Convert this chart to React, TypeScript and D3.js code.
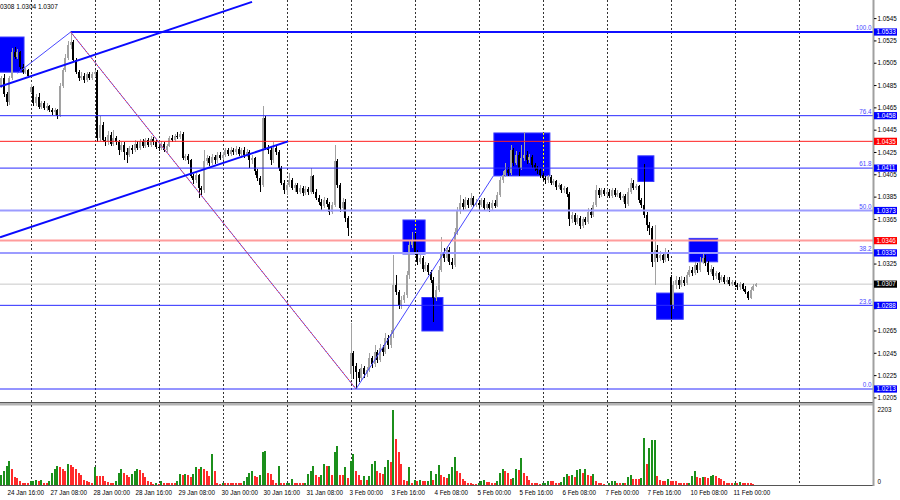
import * as d3 from "d3";

type Bar = [number, number, number]; // close, high, low

// ── sessions (H1 bars) ─────────────────────────────────────
const sessionNames = ["24 Jan", "27 Jan", "28 Jan", "29 Jan", "30 Jan", "31 Jan", "3 Feb", "4 Feb", "5 Feb", "6 Feb", "7 Feb", "10 Feb", "11 Feb"];
// opening quote of a session when it gaps, otherwise null (open = previous close)
const sessionOpens: (number | null)[] = [1.0488, 1.0479, null, null, null, null, 1.0226, null, null, null, null, 1.0313, null];

const jan24: Bar[] = [
  [1.0484, 1.0490, 1.0482], [1.0492, 1.0494, 1.0483], [1.0477, 1.0495, 1.0475], [1.0470, 1.0479, 1.0467],
  [1.0492, 1.0494, 1.0468], [1.0515, 1.0519, 1.0490], [1.0511, 1.0520, 1.0509], [1.0515, 1.0518, 1.0509],
  [1.0502, 1.0516, 1.0500], [1.0497, 1.0504, 1.0495], [1.0499, 1.0501, 1.0495], [1.0494, 1.0500, 1.0492],
];
const jan27: Bar[] = [
  [1.0484, 1.0486, 1.0478], [1.0469, 1.0485, 1.0467], [1.0475, 1.0477, 1.0467], [1.0466, 1.0478, 1.0464],
  [1.0469, 1.0471, 1.0464], [1.0465, 1.0471, 1.0463], [1.0467, 1.0469, 1.0462], [1.0463, 1.0468, 1.0461],
  [1.0461, 1.0465, 1.0459], [1.0463, 1.0465, 1.0459], [1.0458, 1.0464, 1.0455], [1.0485, 1.0487, 1.0457],
  [1.0499, 1.0501, 1.0483], [1.0510, 1.0513, 1.0497], [1.0521, 1.0525, 1.0508], [1.0524, 1.0533, 1.0518],
  [1.0508, 1.0526, 1.0506], [1.0497, 1.0510, 1.0495], [1.0492, 1.0499, 1.0489], [1.0494, 1.0497, 1.0490],
  [1.0490, 1.0496, 1.0487], [1.0495, 1.0497, 1.0488], [1.0492, 1.0497, 1.0490], [1.0495, 1.0497, 1.0490],
];
const jan28: Bar[] = [
  [1.0497, 1.0499, 1.0493], [1.0438, 1.0499, 1.0434], [1.0450, 1.0458, 1.0435], [1.0436, 1.0452, 1.0434],
  [1.0434, 1.0439, 1.0431], [1.0441, 1.0444, 1.0432], [1.0433, 1.0443, 1.0431], [1.0438, 1.0445, 1.0431],
  [1.0434, 1.0440, 1.0432], [1.0427, 1.0436, 1.0423], [1.0432, 1.0434, 1.0425], [1.0425, 1.0434, 1.0418],
  [1.0423, 1.0429, 1.0416], [1.0429, 1.0431, 1.0421], [1.0427, 1.0432, 1.0424], [1.0433, 1.0436, 1.0425],
  [1.0429, 1.0435, 1.0427], [1.0435, 1.0437, 1.0427], [1.0431, 1.0437, 1.0429], [1.0436, 1.0438, 1.0429],
  [1.0432, 1.0438, 1.0430], [1.0437, 1.0440, 1.0430], [1.0434, 1.0439, 1.0432], [1.0430, 1.0436, 1.0428],
];
const jan29: Bar[] = [
  [1.0429, 1.0432, 1.0426], [1.0433, 1.0435, 1.0427], [1.0427, 1.0434, 1.0425], [1.0431, 1.0433, 1.0425],
  [1.0438, 1.0440, 1.0430], [1.0436, 1.0441, 1.0434], [1.0440, 1.0442, 1.0434], [1.0439, 1.0443, 1.0437],
  [1.0442, 1.0444, 1.0437], [1.0420, 1.0443, 1.0418], [1.0422, 1.0424, 1.0417], [1.0418, 1.0424, 1.0415],
  [1.0404, 1.0419, 1.0402], [1.0400, 1.0406, 1.0397], [1.0405, 1.0407, 1.0398], [1.0393, 1.0406, 1.0384],
  [1.0391, 1.0395, 1.0387], [1.0417, 1.0427, 1.0389], [1.0420, 1.0423, 1.0414], [1.0416, 1.0422, 1.0413],
  [1.0421, 1.0424, 1.0414], [1.0418, 1.0423, 1.0415], [1.0423, 1.0425, 1.0416], [1.0420, 1.0425, 1.0418],
];
const jan30: Bar[] = [
  [1.0423, 1.0425, 1.0418], [1.0427, 1.0429, 1.0421], [1.0424, 1.0429, 1.0422], [1.0427, 1.0430, 1.0422],
  [1.0425, 1.0429, 1.0423], [1.0428, 1.0431, 1.0423], [1.0424, 1.0430, 1.0422], [1.0427, 1.0429, 1.0420],
  [1.0423, 1.0430, 1.0420], [1.0425, 1.0428, 1.0421], [1.0418, 1.0427, 1.0411], [1.0420, 1.0423, 1.0415],
  [1.0408, 1.0421, 1.0405], [1.0402, 1.0410, 1.0399], [1.0396, 1.0404, 1.0390], [1.0456, 1.0467, 1.0394],
  [1.0429, 1.0458, 1.0427], [1.0427, 1.0432, 1.0424], [1.0418, 1.0430, 1.0414], [1.0429, 1.0434, 1.0416],
  [1.0425, 1.0431, 1.0423], [1.0411, 1.0427, 1.0408], [1.0398, 1.0413, 1.0396], [1.0391, 1.0400, 1.0388],
];
const jan31: Bar[] = [
  [1.0396, 1.0398, 1.0387], [1.0400, 1.0407, 1.0394], [1.0393, 1.0402, 1.0391], [1.0396, 1.0398, 1.0390],
  [1.0390, 1.0398, 1.0388], [1.0393, 1.0396, 1.0388], [1.0389, 1.0395, 1.0386], [1.0392, 1.0395, 1.0387],
  [1.0390, 1.0394, 1.0387], [1.0404, 1.0411, 1.0388], [1.0390, 1.0405, 1.0388], [1.0384, 1.0392, 1.0382],
  [1.0381, 1.0387, 1.0378], [1.0377, 1.0383, 1.0373], [1.0382, 1.0385, 1.0375], [1.0379, 1.0384, 1.0376],
  [1.0372, 1.0381, 1.0369], [1.0378, 1.0381, 1.0370], [1.0417, 1.0432, 1.0376], [1.0396, 1.0419, 1.0393],
  [1.0375, 1.0398, 1.0372], [1.0381, 1.0384, 1.0372], [1.0366, 1.0383, 1.0363], [1.0357, 1.0368, 1.0350],
];
const feb03: Bar[] = [
  [1.0245, 1.0272, 1.0222], [1.0234, 1.0247, 1.0222], [1.0228, 1.0236, 1.0213], [1.0223, 1.0231, 1.0219],
  [1.0232, 1.0235, 1.0221], [1.0226, 1.0234, 1.0223], [1.0230, 1.0233, 1.0224], [1.0241, 1.0245, 1.0228],
  [1.0235, 1.0243, 1.0232], [1.0246, 1.0252, 1.0233], [1.0239, 1.0248, 1.0236], [1.0250, 1.0253, 1.0237],
  [1.0246, 1.0252, 1.0243], [1.0259, 1.0263, 1.0244], [1.0252, 1.0261, 1.0249], [1.0262, 1.0266, 1.0250],
  [1.0306, 1.0333, 1.0259], [1.0300, 1.0315, 1.0297], [1.0288, 1.0302, 1.0285], [1.0293, 1.0296, 1.0285],
  [1.0297, 1.0300, 1.0290], [1.0315, 1.0319, 1.0295], [1.0342, 1.0346, 1.0312], [1.0347, 1.0354, 1.0339],
];
const feb04: Bar[] = [
  [1.0336, 1.0353, 1.0333], [1.0327, 1.0338, 1.0324], [1.0330, 1.0333, 1.0325], [1.0321, 1.0332, 1.0318],
  [1.0324, 1.0327, 1.0319], [1.0318, 1.0326, 1.0315], [1.0311, 1.0320, 1.0308], [1.0295, 1.0313, 1.0273],
  [1.0302, 1.0305, 1.0292], [1.0320, 1.0323, 1.0300], [1.0336, 1.0349, 1.0318], [1.0330, 1.0339, 1.0327],
  [1.0338, 1.0341, 1.0328], [1.0327, 1.0340, 1.0324], [1.0324, 1.0330, 1.0321], [1.0354, 1.0357, 1.0322],
  [1.0373, 1.0376, 1.0351], [1.0380, 1.0387, 1.0370], [1.0376, 1.0383, 1.0373], [1.0382, 1.0385, 1.0374],
  [1.0378, 1.0384, 1.0375], [1.0384, 1.0389, 1.0376], [1.0378, 1.0386, 1.0376], [1.0380, 1.0383, 1.0376],
];
const feb05: Bar[] = [
  [1.0378, 1.0382, 1.0375], [1.0382, 1.0384, 1.0376], [1.0375, 1.0384, 1.0373], [1.0379, 1.0381, 1.0373],
  [1.0375, 1.0381, 1.0372], [1.0380, 1.0382, 1.0373], [1.0377, 1.0382, 1.0375], [1.0387, 1.0390, 1.0376],
  [1.0400, 1.0403, 1.0385], [1.0405, 1.0408, 1.0398], [1.0409, 1.0416, 1.0403], [1.0407, 1.0412, 1.0404],
  [1.0427, 1.0432, 1.0405], [1.0416, 1.0429, 1.0413], [1.0423, 1.0426, 1.0414], [1.0411, 1.0425, 1.0404],
  [1.0420, 1.0432, 1.0409], [1.0423, 1.0443, 1.0417], [1.0418, 1.0426, 1.0415], [1.0421, 1.0424, 1.0416],
  [1.0414, 1.0423, 1.0411], [1.0411, 1.0416, 1.0408], [1.0409, 1.0413, 1.0406], [1.0405, 1.0411, 1.0402],
];
const feb06: Bar[] = [
  [1.0402, 1.0407, 1.0399], [1.0400, 1.0404, 1.0397], [1.0403, 1.0405, 1.0398], [1.0398, 1.0405, 1.0396],
  [1.0399, 1.0401, 1.0396], [1.0394, 1.0400, 1.0391], [1.0396, 1.0398, 1.0392], [1.0391, 1.0397, 1.0389],
  [1.0393, 1.0395, 1.0389], [1.0388, 1.0394, 1.0385], [1.0365, 1.0390, 1.0359], [1.0369, 1.0372, 1.0362],
  [1.0363, 1.0371, 1.0360], [1.0366, 1.0369, 1.0361], [1.0359, 1.0368, 1.0356], [1.0365, 1.0367, 1.0357],
  [1.0363, 1.0367, 1.0360], [1.0372, 1.0375, 1.0361], [1.0369, 1.0375, 1.0366], [1.0378, 1.0381, 1.0367],
  [1.0391, 1.0396, 1.0376], [1.0387, 1.0393, 1.0384], [1.0391, 1.0393, 1.0385], [1.0388, 1.0393, 1.0386],
];
const feb07: Bar[] = [
  [1.0390, 1.0392, 1.0386], [1.0386, 1.0392, 1.0384], [1.0391, 1.0393, 1.0384], [1.0387, 1.0393, 1.0385],
  [1.0389, 1.0391, 1.0385], [1.0384, 1.0390, 1.0382], [1.0386, 1.0388, 1.0381], [1.0379, 1.0388, 1.0375],
  [1.0390, 1.0393, 1.0377], [1.0398, 1.0402, 1.0388], [1.0393, 1.0400, 1.0391], [1.0395, 1.0397, 1.0391],
  [1.0382, 1.0396, 1.0380], [1.0378, 1.0384, 1.0375], [1.0369, 1.0415, 1.0366], [1.0360, 1.0372, 1.0355],
  [1.0357, 1.0363, 1.0351], [1.0327, 1.0359, 1.0322], [1.0338, 1.0360, 1.0306], [1.0330, 1.0342, 1.0327],
  [1.0333, 1.0337, 1.0328], [1.0329, 1.0336, 1.0326], [1.0336, 1.0339, 1.0327], [1.0330, 1.0338, 1.0328],
];
const feb10: Bar[] = [
  [1.0288, 1.0315, 1.0276], [1.0306, 1.0310, 1.0285], [1.0311, 1.0314, 1.0303], [1.0306, 1.0313, 1.0303],
  [1.0311, 1.0314, 1.0304], [1.0308, 1.0313, 1.0305], [1.0315, 1.0318, 1.0306], [1.0320, 1.0323, 1.0313],
  [1.0317, 1.0322, 1.0314], [1.0324, 1.0327, 1.0315], [1.0320, 1.0326, 1.0317], [1.0327, 1.0331, 1.0318],
  [1.0330, 1.0336, 1.0325], [1.0326, 1.0333, 1.0323], [1.0318, 1.0328, 1.0315], [1.0321, 1.0324, 1.0316],
  [1.0314, 1.0322, 1.0311], [1.0317, 1.0319, 1.0312], [1.0311, 1.0318, 1.0308], [1.0313, 1.0315, 1.0309],
  [1.0309, 1.0315, 1.0307], [1.0311, 1.0313, 1.0307], [1.0307, 1.0313, 1.0305], [1.0309, 1.0311, 1.0305],
];
const feb11: Bar[] = [
  [1.0306, 1.0310, 1.0304], [1.0304, 1.0308, 1.0302], [1.0307, 1.0309, 1.0302], [1.0303, 1.0308, 1.0301],
  [1.0300, 1.0305, 1.0298], [1.0295, 1.0301, 1.0293], [1.0302, 1.0304, 1.0294], [1.0305, 1.0307, 1.0301],
  [1.0307, 1.0308, 1.0304],
];

// ── tick volumes ───────────────────────────────────────────
const volJan24 = [290, 300, 406, 560, 705, 483, 242, 213, 116, 77, 77, 68];
const volJan27 = [116, 126, 164, 116, 145, 77, 77, 116, 367, 464, 551, 531, 464, 406, 628, 580, 531, 483, 367, 290, 145, 126, 97, 77];
const volJan28 = [531, 261, 261, 261, 116, 97, 77, 77, 116, 367, 483, 367, 309, 242, 338, 406, 464, 445, 367, 242, 116, 97, 48, 77];
const volJan29 = [48, 116, 77, 77, 77, 77, 77, 116, 319, 290, 338, 309, 242, 319, 531, 464, 531, 483, 406, 261, 918, 406, 77, 48];
const volJan30 = [77, 77, 77, 77, 77, 77, 77, 77, 116, 242, 367, 406, 270, 242, 290, 985, 1014, 348, 338, 145, 77, 551, 77, 77];
const volJan31 = [80, 82, 193, 77, 77, 77, 77, 80, 338, 406, 551, 290, 242, 290, 628, 551, 570, 290, 985, 1159, 290, 290, 531, 213];
const volFeb03 = [705, 918, 406, 290, 145, 261, 145, 261, 609, 705, 406, 367, 338, 531, 753, 676, 2203, 1352, 985, 628, 164, 116, 531, 77];
const volFeb04 = [145, 116, 145, 116, 116, 120, 406, 145, 319, 599, 309, 242, 213, 338, 531, 840, 406, 367, 193, 116, 77, 68, 48, 48];
const volFeb05 = [77, 116, 164, 97, 97, 77, 77, 116, 357, 464, 406, 367, 193, 222, 464, 435, 792, 367, 261, 145, 77, 77, 68, 39];
const volFeb06 = [68, 77, 126, 116, 116, 77, 77, 97, 242, 338, 261, 309, 242, 435, 483, 357, 483, 309, 261, 338, 116, 77, 68, 48];
const volFeb07 = [19, 77, 116, 120, 77, 77, 80, 77, 242, 290, 193, 193, 193, 213, 1372, 628, 1092, 1323, 1333, 261, 164, 135, 116, 174];
const volFeb10 = [135, 126, 126, 77, 77, 68, 68, 77, 261, 406, 242, 213, 242, 242, 213, 270, 309, 270, 213, 174, 116, 77, 77, 68];
const volFeb11 = [77, 68, 97, 77, 77, 77, 68, 48, 19];
const volumeMax = 2203;

// ── axis labels ────────────────────────────────────────────
const priceTicks = [1.0205, 1.0225, 1.0245, 1.0265, 1.0285, 1.0305, 1.0325, 1.0345, 1.0365, 1.0385, 1.0405, 1.0425, 1.0445, 1.0465, 1.0485, 1.0505, 1.0525, 1.0545];
const timeLabels = ["24 Jan 16:00", "27 Jan 08:00", "28 Jan 00:00", "28 Jan 16:00", "29 Jan 08:00", "30 Jan 00:00", "30 Jan 16:00", "31 Jan 08:00", "3 Feb 00:00", "3 Feb 16:00", "4 Feb 08:00", "5 Feb 00:00", "5 Feb 16:00", "6 Feb 08:00", "7 Feb 00:00", "7 Feb 16:00", "10 Feb 08:00", "11 Feb 00:00"];
const firstLabelHour = 16; // 24 Jan 16:00
const labelStep = 16;
const headerText = "0308 1.0304 1.0307";

// ── drawn objects ──────────────────────────────────────────
const fibRatios = ["100.0", "76.4", "61.8", "50.0", "38.2", "23.6", "0.0"];
const fibPrices = [1.0533, 1.0458, 1.0411, 1.0373, 1.0335, 1.0288, 1.0213];
const redLevels = [1.0435, 1.0346];
const bidPrice = 1.0307;
// fib anchor: [bar, price] high → low
const fibFrom: [number, number] = [27, 1.0533];
const fibTo: [number, number] = [134, 1.0213];
const trendLines: [number, number][][] = [
  [[0.5, 1.0484], [95, 1.0560]],
  [[0.5, 1.0349], [108.5, 1.0435]],
  [[7, 1.0496], [27, 1.0533]],
  [[134, 1.0213], [185.5, 1.0404]],
];
// rectangles: [bar from, bar to, top price, bottom price]
const zones: [number, number, number, number][] = [
  [0, 9.5, 1.05285, 1.0497],
  [151.6, 159.9, 1.03645, 1.0334],
  [158.7, 166.6, 1.0295, 1.0265],
  [185.7, 206.7, 1.04425, 1.0404],
  [239.7, 245.7, 1.0422, 1.0399],
  [246.7, 256.7, 1.0299, 1.02755],
  [258.9, 269.6, 1.0348, 1.0327],
];

const sessions = [jan24, jan27, jan28, jan29, jan30, jan31, feb03, feb04, feb05, feb06, feb07, feb10, feb11];
const volumes = [volJan24, volJan27, volJan28, volJan29, volJan30, volJan31, volFeb03, volFeb04, volFeb05, volFeb06, volFeb07, volFeb10, volFeb11];
const firstBarHour = 12; // first bar = 24 Jan 12:00

const FONT = "'Liberation Sans', Arial, sans-serif";
const W = 900, H = 500;
const AXIS_X = 873;
const MAIN_BOTTOM = 402;
const VOL_BASE = 485.5;

export default function App() {
  // bars
  const bars: { k: number; o: number; h: number; l: number; c: number; v: number }[] = [];
  let prev = 0;
  sessions.forEach((sess, s) => {
    const start = s === 0 ? 0 : 24 - firstBarHour + 24 * (s - 1);
    sess.forEach(([c, h, l], j) => {
      const so = sessionOpens[s];
      const o = j === 0 && so != null ? so : prev;
      bars.push({ k: start + j, o, h, l, c, v: volumes[s][j] });
      prev = c;
    });
  });

  const x = d3.scaleLinear().domain([12, 36]).range([30.7, 94.7]);
  const y = d3.scaleLinear().domain([fibPrices[6], fibPrices[0]]).range([389, 32]);
  const vy = d3.scaleLinear().domain([0, volumeMax]).range([VOL_BASE, 409.5]);

  const px = (k: number) => Math.round(x(k));
  const gridKs = sessionNames.map((_, s) => 24 - firstBarHour + 24 * s);
  const labelKs = timeLabels.map((_, i) => (firstLabelHour - firstBarHour) + labelStep * i);

  const BULL = "#a2a2a2";
  const BEAR = "#000000";

  const fibStyle = (i: number) =>
    i === 0 ? { stroke: "#1010ff", w: 2 } :
    i === 3 || i === 4 ? { stroke: "#9c9cff", w: 2 } :
    { stroke: "#2a2aff", w: 1 };
  const redStyle = (i: number) => (i === 0 ? { stroke: "#ff2020", w: 1 } : { stroke: "#ff9c9c", w: 2 });

  const lineD = d3.line<[number, number]>().x(d => x(d[0])).y(d => y(d[1]));

  // axis ticks covered by a level's price box are not drawn
  const boxed = [...fibPrices, ...redLevels, bidPrice];
  const visibleTicks = priceTicks.filter(p => boxed.every(b => Math.abs(y(p) - y(b)) >= 6));

  const priceBox = (p: number, bg: string, key: string) => (
    <g key={key}>
      <rect x={874} y={y(p) - 3.6} width={23} height={7.2} fill={bg} />
      <text x={876.5} y={y(p) + 2.3} fontSize={6.3} fill="#fff" fontFamily={FONT}>{p.toFixed(4)}</text>
    </g>
  );

  return (
    <svg width={W} height={H} style={{ position: "absolute", left: 0, top: 0, background: "#fff" }}>
      <defs>
        <clipPath id="main"><rect x={0} y={0} width={AXIS_X} height={MAIN_BOTTOM} /></clipPath>
        <clipPath id="vol"><rect x={0} y={405} width={AXIS_X} height={VOL_BASE - 405} /></clipPath>
      </defs>
      <rect width={W} height={H} fill="#fff" />

      <g clipPath="url(#main)">
        {/* rectangles (background objects) */}
        {zones.map(([k0, k1, top, bot], i) => (
          <rect key={`z${i}`} x={x(k0)} y={y(top)} width={x(k1) - x(k0)} height={y(bot) - y(top)}
            fill="#0000ff" stroke="#3a3aff" strokeWidth={1} />
        ))}
        {/* grid */}
        {gridKs.map(k => (
          <line key={`g${k}`} x1={px(k) + 0.5} x2={px(k) + 0.5} y1={0} y2={MAIN_BOTTOM}
            stroke="#333" strokeDasharray="2,2" />
        ))}
        {gridKs.flatMap(k => zones.filter(z => z[0] <= k && k <= z[1]).map((z, j) => (
          <line key={`gy${k}-${j}`} x1={px(k) + 0.5} x2={px(k) + 0.5} y1={y(z[2])} y2={y(z[3])}
            stroke="#ffff00" strokeDasharray="2,2" />
        )))}
        {/* bid line */}
        <line x1={0} x2={AXIS_X} y1={y(bidPrice)} y2={y(bidPrice)} stroke="#c8c8c8" />

        {/* candles */}
        {bars.map(b => {
          const cx = px(b.k);
          const up = b.c >= b.o;
          const col = up ? BULL : BEAR;
          const yt = y(Math.max(b.o, b.c));
          const yb = y(Math.min(b.o, b.c));
          return (
            <g key={`c${b.k}`} shapeRendering="crispEdges">
              <rect x={cx - 0.5} y={y(b.h)} width={1} height={y(b.l) - y(b.h)} fill={col} />
              <rect x={cx - 1} y={yt} width={2} height={Math.max(1, yb - yt)} fill={col} />
            </g>
          );
        })}

        {/* horizontal levels */}
        {fibPrices.map((p, i) => {
          const st = fibStyle(i);
          return (
            <line key={`f${i}`} x1={i === 0 ? x(fibFrom[0]) : 0} x2={AXIS_X} y1={y(p)} y2={y(p)}
              stroke={st.stroke} strokeWidth={st.w} />
          );
        })}
        {redLevels.map((p, i) => {
          const st = redStyle(i);
          return <line key={`r${i}`} x1={0} x2={AXIS_X} y1={y(p)} y2={y(p)} stroke={st.stroke} strokeWidth={st.w} />;
        })}
        {fibRatios.map((r, i) => (
          <text key={`ft${i}`} x={871.5} y={y(fibPrices[i]) - 1.8} textAnchor="end" fontSize={6.3}
            fill="#4a4aff" fontFamily={FONT}>{r}</text>
        ))}

        {/* trend lines */}
        <path d={lineD([fibFrom, fibTo]) ?? ""} stroke="#5a5aff" strokeWidth={1} fill="none" />
        <path d={lineD([fibFrom, fibTo]) ?? ""} stroke="#ff3030" strokeWidth={1} fill="none" strokeDasharray="1.5,1.5" />
        {trendLines.map((tl, i) => (
          <path key={`t${i}`} d={lineD(tl) ?? ""} stroke={i < 2 ? "#0a0aff" : "#4848ff"}
            strokeWidth={i < 2 ? 2 : 1} fill="none" />
        ))}
      </g>

      <text x={0} y={8.5} fontSize={6.5} fill="#000" fontFamily={FONT}>{headerText}</text>

      {/* panel separator */}
      <rect x={0} y={402} width={AXIS_X} height={1} fill="#5a5a5a" />
      <rect x={0} y={403} width={AXIS_X} height={2.5} fill="#b4b4b4" />

      {/* volumes */}
      <g clipPath="url(#vol)">
        {gridKs.map(k => (
          <line key={`vg${k}`} x1={px(k) + 0.5} x2={px(k) + 0.5} y1={405} y2={VOL_BASE}
            stroke="#333" strokeDasharray="2,2" />
        ))}
        {bars.map((b, i) => {
          const up = i > 0 && b.v > bars[i - 1].v;
          return (
            <rect key={`v${b.k}`} x={px(b.k) - 1} y={vy(b.v)} width={2} height={VOL_BASE - vy(b.v)}
              fill={up ? "#1b8f1b" : "#ff2a2a"} shapeRendering="crispEdges" />
          );
        })}
      </g>
      <line x1={0} x2={AXIS_X} y1={VOL_BASE} y2={VOL_BASE} stroke="#555" />

      {/* price axis */}
      <line x1={AXIS_X + 0.5} x2={AXIS_X + 0.5} y1={0} y2={VOL_BASE + 0.5} stroke="#a0a0a0" strokeWidth={2} />
      {priceTicks.map(p => (
        <line key={`pk${p}`} x1={AXIS_X + 1} x2={AXIS_X + 3.5} y1={y(p)} y2={y(p)} stroke="#000" />
      ))}
      {visibleTicks.map(p => (
        <text key={`pt${p}`} x={877.5} y={y(p) + 2.2} fontSize={6.3} fill="#000" fontFamily={FONT}>{p.toFixed(4)}</text>
      ))}
      {fibPrices.map((p, i) => priceBox(p, "#0000ff", `fb${i}`))}
      {redLevels.map((p, i) => priceBox(p, "#ff0000", `rb${i}`))}
      {priceBox(bidPrice, "#000000", "bid")}

      {/* volume axis */}
      <text x={877.5} y={vy(volumeMax) + 2.2} fontSize={6.3} fill="#000" fontFamily={FONT}>{volumeMax}</text>
      <text x={877.5} y={vy(0) - 1.3} fontSize={6.3} fill="#000" fontFamily={FONT}>0</text>

      {/* time axis */}
      {timeLabels.map((t, i) => (
        <text key={`tl${i}`} x={px(labelKs[i]) - 1.5} y={495} fontSize={6.3} fill="#000" fontFamily={FONT}>{t}</text>
      ))}
    </svg>
  );
}
